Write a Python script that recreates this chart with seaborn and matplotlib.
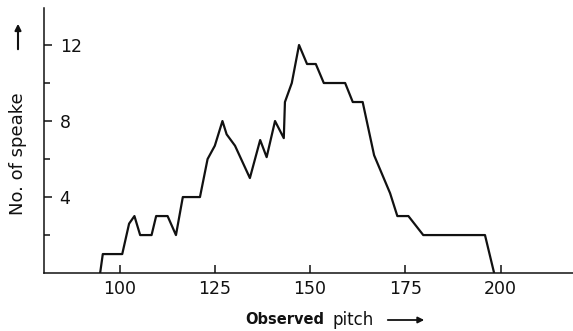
import numpy as np
import pandas as pd
import seaborn as sns
import matplotlib.pyplot as plt
from matplotlib.patches import FancyArrowPatch

# values
pitch = [94.9, 95.6, 100.7, 102.5, 103.9, 105.4, 108.4, 109.6, 112.6, 114.8,
         116.6, 121.1, 123.1, 125.0, 127.0, 128.1, 130.3, 134.2, 136.9, 138.6,
         140.8, 143.1, 143.4, 145.2, 147.1, 149.2, 151.5, 153.6, 159.2, 161.2,
         163.8, 166.8, 171.0, 172.9, 175.8, 179.7, 195.9, 198.3]
speakers = [0, 1, 1, 2.6, 3, 2, 2, 3, 3, 2,
            4, 4, 6, 6.7, 8, 7.3, 6.7, 5, 7, 6.1,
            8, 7.1, 9, 10, 12, 11, 11, 10, 10, 9,
            9, 6.2, 4.2, 3, 3, 2, 2, 0]
x_ticks = [100, 125, 150, 175, 200]
y_ticks = [4, 8, 12]
y_minor = [2, 6, 10]

sns.set_style("ticks")
plt.rcParams['font.family'] = ['DejaVu Sans']

df = pd.DataFrame({'pitch': pitch, 'speakers': speakers})

fig = plt.figure(figsize=(5.73, 3.31), dpi=100)
ax = fig.add_axes([0.077, 0.175, 0.923, 0.801])

sns.lineplot(data=df, x='pitch', y='speakers', ax=ax, color='#111111', linewidth=1.6)

ax.set_xlim(80.2, 219)
ax.set_ylim(0, 13.95)
ax.set_xticks(x_ticks)
ax.set_yticks(y_ticks)
ax.set_yticks(y_minor, minor=True)
ax.set_xlabel('')
ax.set_ylabel('')

for side in ['top', 'right']:
    ax.spines[side].set_visible(False)
for side in ['left', 'bottom']:
    ax.spines[side].set_linewidth(1.1)
    ax.spines[side].set_color('#111111')

ax.tick_params(axis='x', direction='in', length=6, width=1.1, pad=5,
               labelsize=12.5, colors='#111111')
ax.tick_params(axis='y', which='major', direction='in', length=6, width=1.1,
               pad=-11.2, labelsize=12.5, colors='#111111')
ax.tick_params(axis='y', which='minor', direction='in', length=4, width=1.1,
               colors='#111111')
for lab in ax.get_yticklabels():
    lab.set_horizontalalignment('left')

# axis titles, placed as in the scan
W, H = 573, 331
fig.text(18 / W, 1 - 215 / H, 'No. of speake', rotation=90, ha='center',
         va='bottom', fontsize=13, color='#111111')
fig.text(245 / W, 1 - 320 / H, 'Observed', fontweight='bold', ha='left',
         va='center', fontsize=10.5, color='#111111')
fig.text(332 / W, 1 - 320 / H, 'pitch', ha='left', va='center',
         fontsize=12, color='#111111')
fig.add_artist(FancyArrowPatch(
    (385 / W, 1 - 320 / H), (427 / W, 1 - 320 / H), transform=fig.transFigure,
    arrowstyle='-|>', mutation_scale=9, linewidth=1.3, color='#111111'))
fig.add_artist(FancyArrowPatch(
    (18 / W, 1 - 52 / H), (18 / W, 1 - 21 / H), transform=fig.transFigure,
    arrowstyle='-|>', mutation_scale=9, linewidth=1.5, color='#111111'))

fig.savefig('out.png', dpi=100)
